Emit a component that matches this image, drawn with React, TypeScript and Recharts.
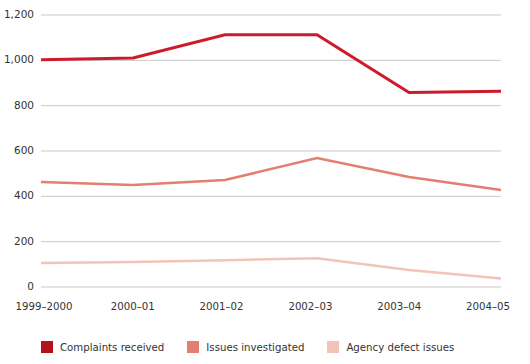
import { LineChart, Line, XAxis, YAxis, CartesianGrid, Legend } from 'recharts'

const years = ['1999–2000', '2000–01', '2001–02', '2002–03', '2003–04', '2004–05']
const complaintsReceived = [1003, 1010, 1113, 1113, 858, 864]
const issuesInvestigated = [463, 450, 472, 569, 485, 428]
const agencyDefectIssues = [106, 110, 118, 127, 75, 38]
const yTicks = [0, 200, 400, 600, 800, 1000, 1200]

const data = years.map((year, i) => ({
  year,
  complaints: complaintsReceived[i],
  investigated: issuesInvestigated[i],
  defects: agencyDefectIssues[i],
}))

const font = '"DejaVu Sans", Verdana, sans-serif'

const legendItems = [
  { key: 'complaints', label: 'Complaints received', color: '#b3111c' },
  { key: 'investigated', label: 'Issues investigated', color: '#e47f70' },
  { key: 'defects', label: 'Agency defect issues', color: '#f4c3b7' },
]

function LegendContent() {
  return (
    <div style={{ display: 'flex', paddingLeft: 41, paddingTop: 16, fontFamily: font, fontSize: 10.2, color: '#333', whiteSpace: 'nowrap' }}>
      {legendItems.map(item => (
        <div key={item.key} style={{ display: 'flex', alignItems: 'center', marginRight: 23 }}>
          <span style={{ width: 12, height: 12, background: item.color, marginRight: 7, display: 'inline-block' }} />
          <span>{item.label}</span>
        </div>
      ))}
    </div>
  )
}

function YTick(props: any) {
  const { x, y, payload } = props
  return (
    <text x={x + 1} y={y} dy="0.3em" textAnchor="end" fill="#333" fontSize={10.5} fontFamily={font}>
      {Number(payload.value).toLocaleString('en-US')}
    </text>
  )
}

export default function App() {
  return (
    <div style={{ position: 'absolute', left: 0, top: 0, width: 530, height: 364, background: '#fff' }}>
      <LineChart width={530} height={364} data={data} margin={{ top: 15, right: 29, left: 0, bottom: 6 }}>
        <CartesianGrid stroke="#c8c8c8" vertical={false} />
        <XAxis xAxisId="main" dataKey="year" hide />
        <XAxis
          xAxisId="labels"
          dataKey="year"
          padding={{ left: 3, right: 13 }}
          axisLine={false}
          tickLine={false}
          tickMargin={10}
          height={38}
          interval={0}
          tick={{ fill: '#333', fontSize: 10.2, fontFamily: font }}
        />
        <YAxis
          domain={[0, 1200]}
          ticks={yTicks}
          width={41}
          axisLine={false}
          tickLine={false}
          tick={<YTick />}
        />
        <Legend verticalAlign="bottom" height={33} content={<LegendContent />} />
        <Line xAxisId="main" type="linear" dataKey="defects" stroke="#f4c3b7" strokeWidth={2.5} dot={false} isAnimationActive={false} />
        <Line xAxisId="main" type="linear" dataKey="investigated" stroke="#e47f70" strokeWidth={2.5} dot={false} isAnimationActive={false} />
        <Line xAxisId="main" type="linear" dataKey="complaints" stroke="#cc1b2b" strokeWidth={3} dot={false} isAnimationActive={false} />
      </LineChart>
    </div>
  )
}
